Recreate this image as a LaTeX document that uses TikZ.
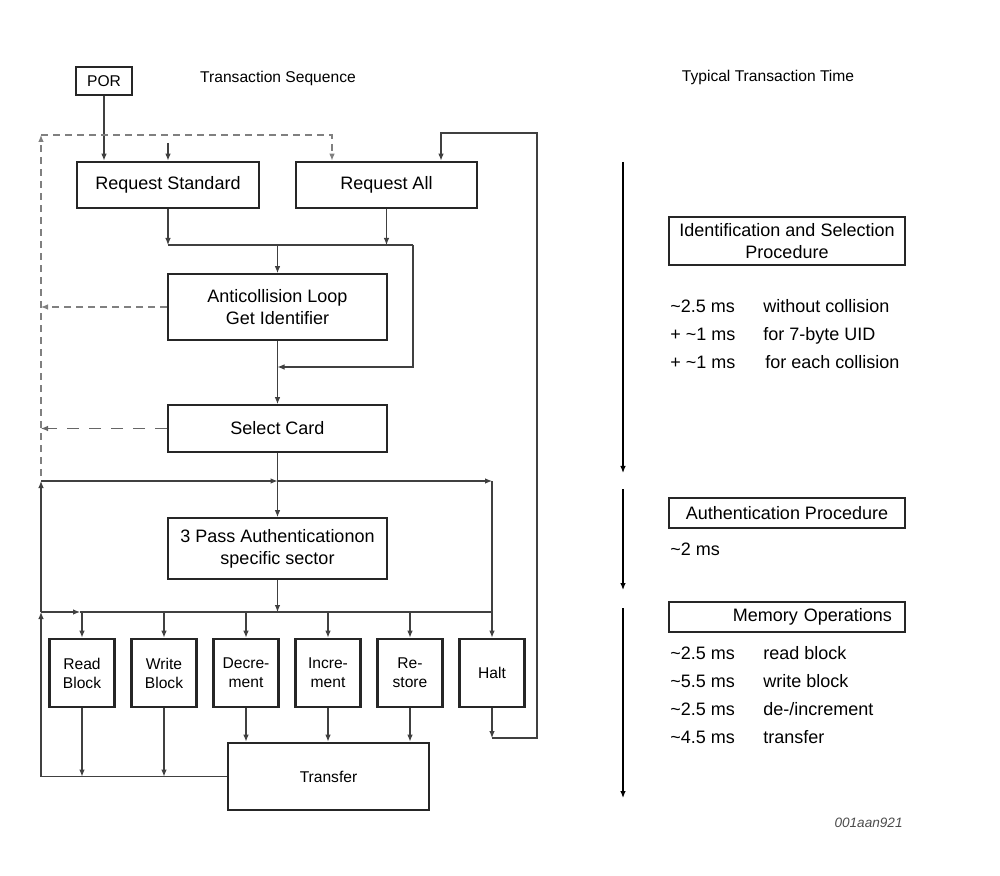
\documentclass[tikz,border=0pt]{standalone}
\usepackage{fontspec}
\setmainfont{Liberation Sans}
\usetikzlibrary{arrows.meta}

\begin{document}
\begin{tikzpicture}[x=0.5pt, y=-0.5pt,
    box/.style={draw=black!85, line width=0.9pt, inner sep=0pt, align=center,
        font=\fontsize{9}{11}\selectfont},
    heavybox/.style={box, line width=1.4pt},
    opbox/.style={heavybox, minimum width=32.5pt, minimum height=34pt,
        font=\fontsize{7.8}{9.5}\selectfont},
    timebox/.style={box, minimum width=118pt, minimum height=15pt},
    arr/.style={-{Latex[length=3.5pt,width=2.8pt]}, draw=black!75, line width=0.55pt},
    wire/.style={draw=black!75, line width=0.55pt},
    dashline/.style={draw=black!50, dash pattern=on 3.5pt off 2.5pt},
    longdash/.style={draw=black!60, dash pattern=on 6pt off 5pt},
    timeline/.style={-{Latex[length=3.5pt,width=2.8pt]}, line width=0.6pt},
    txt/.style={font=\fontsize{9}{11}\selectfont, anchor=west, inner sep=0pt,
        text height=6.6pt, text depth=0pt},
    heading/.style={font=\fontsize{7.8}{9}\selectfont, inner sep=0pt}]

\useasboundingbox (0,0) rectangle (1000,876);

% Headings
\node[heading] (seqhead) at (278,78) {Transaction Sequence};
\node[heading] (timehead) at (768,77) {Typical Transaction Time};

% Identification and selection
\node[box, minimum width=28pt, minimum height=14pt,
    font=\fontsize{7.8}{9}\selectfont] (por) at (104,81) {POR};
\node[heavybox, minimum width=91pt, minimum height=23pt] (reqstd) at (168,185) {Request Standard};
\node[heavybox, minimum width=90.5pt, minimum height=23pt] (reqall) at (386.5,185) {Request All};
\node[box, minimum width=109.5pt, minimum height=33pt] (anticol) at (277.5,307)
    {Anticollision Loop\\Get Identifier};
\node[box, minimum width=109.5pt, minimum height=23.5pt] (select) at (277.5,428.5) {Select Card};

% Authentication
\node[box, minimum width=109.5pt, minimum height=30.5pt] (auth) at (277.5,548.5)
    {3 Pass Authenticationon\\specific sector};

% Memory operations
\node[opbox] (read) at (82,673) {Read\\Block};
\node[opbox] (write) at (164,673) {Write\\Block};
\node[opbox] (decr) at (246,673) {Decre-\\ment};
\node[opbox] (incr) at (328,673) {Incre-\\ment};
\node[opbox] (restore) at (410,673) {Re-\\store};
\node[opbox] (halt) at (492,673) {Halt};
\node[heavybox, minimum width=100.5pt, minimum height=33.5pt,
    font=\fontsize{7.8}{9.5}\selectfont] (transfer) at (328.5,776.5) {Transfer};

% Entries into the request boxes
\coordinate (restart) at (168,143);
\draw[arr] (por.south) -- (por.south |- reqstd.north);
\draw[arr] (restart) -- (restart |- reqstd.north);

% Dashed way back (no answer)
\coordinate (dl) at (41,476);
\coordinate (dc) at (41,135);
\coordinate (dr) at (332,135);
\draw[arr, dashline] (dl) -- (dc);
\draw[arr, dashline] (dc) -- (dr) -- (dr |- reqall.north);
\draw[arr, dashline] (anticol.west) -- (anticol.west -| dl);
\draw[arr, longdash] (select.west) -- (select.west -| dl);

% Merge into anticollision and select
\coordinate (mj) at (277.5,245);
\coordinate (mr) at (413,245);
\coordinate (mb) at (413,367);
\draw[arr] (reqstd.south) -- (reqstd.south |- mj);
\draw[arr] (reqall.south) -- (reqall.south |- mj);
\draw[wire] (reqstd.south |- mj) -- (mr);
\draw[arr] (mj) -- (anticol.north);
\draw[arr] (mr) -- (mb) -- (mb -| anticol.south);
\draw[arr] (anticol.south) -- (select.north);
\draw[arr] (select.south) -- (auth.north);

% Loop round the memory operations
\coordinate (lm) at (41,612);
\coordinate (lt) at (41,481);
\coordinate (rt) at (492,481);
\coordinate (rm) at (492,612);
\coordinate (lm2) at (80,612);
\draw[wire] (transfer.west) -- (transfer.west -| lm);
\draw[arr] (transfer.west -| lm) -- (lm);
\draw[arr] (lm) -- (lt);
\draw[arr] (lt) -- (lt -| auth.north);
\draw[arr] (lt -| auth.north) -- (rt);
\draw[arr] (rt) -- (halt.north);
\draw[arr] (auth.south) -- (auth.south |- lm);
\draw[arr] (lm) -- (lm2);
\draw[wire] (lm2) -- (rm);
\foreach \op in {read,write,decr,incr,restore}
    \draw[arr] (\op.north |- lm) -- (\op.north);
\draw[arr] (read.south) -- (read.south |- transfer.west);
\draw[arr] (write.south) -- (write.south |- transfer.west);
\foreach \op in {decr,incr,restore}
    \draw[arr] (\op.south) -- (\op.south |- transfer.north);

% Halt back to Request All
\coordinate (hb) at (492,738);
\coordinate (hr) at (537,738);
\coordinate (ht) at (537,133);
\coordinate (ha) at (441,133);
\draw[arr] (halt.south) -- (hb);
\draw[arr] (hb) -- (hr) -- (ht) -- (ha) -- (ha |- reqall.north);

% Time line
\coordinate (ta1) at (623,162);
\coordinate (tb1) at (623,473);
\coordinate (ta2) at (623,489);
\coordinate (tb2) at (623,590);
\coordinate (ta3) at (623,608);
\coordinate (tb3) at (623,798);
\draw[timeline] (ta1) -- (tb1);
\draw[timeline] (ta2) -- (tb2);
\draw[timeline] (ta3) -- (tb3);

% Typical times
\node[timebox, minimum height=24pt] (idbox) at (787,241) {Identification and Selection\\Procedure};
\node[txt] (id1) at (670,306) {\textasciitilde 2.5 ms};
\node[txt] (id1t) at (763,306) {without collision};
\node[txt] (id2) at (670,334) {+ \textasciitilde 1 ms};
\node[txt] (id2t) at (763,334) {for 7-byte UID};
\node[txt] (id3) at (670,362) {+ \textasciitilde 1 ms};
\node[txt] (id3t) at (765,362) {for each collision};

\node[timebox] (authbox) at (787,513) {Authentication Procedure};
\node[txt] (au1) at (670,549) {\textasciitilde 2 ms};

\node[timebox, inner xsep=6.5pt, text width=105pt, align=right] (membox) at (787,617) {Memory Operations};
\node[txt] (me1) at (670,653) {\textasciitilde 2.5 ms};
\node[txt] (me1t) at (763,653) {read block};
\node[txt] (me2) at (670,681) {\textasciitilde 5.5 ms};
\node[txt] (me2t) at (763,681) {write block};
\node[txt] (me3) at (670,709) {\textasciitilde 2.5 ms};
\node[txt] (me3t) at (763,709) {de-/increment};
\node[txt] (me4) at (670,737) {\textasciitilde 4.5 ms};
\node[txt] (me4t) at (763,737) {transfer};

\node[anchor=east, inner sep=0pt, text=black!70,
    font=\fontsize{6.8}{8}\selectfont\itshape] (figid) at (903,823) {001aan921};

\end{tikzpicture}
\end{document}
